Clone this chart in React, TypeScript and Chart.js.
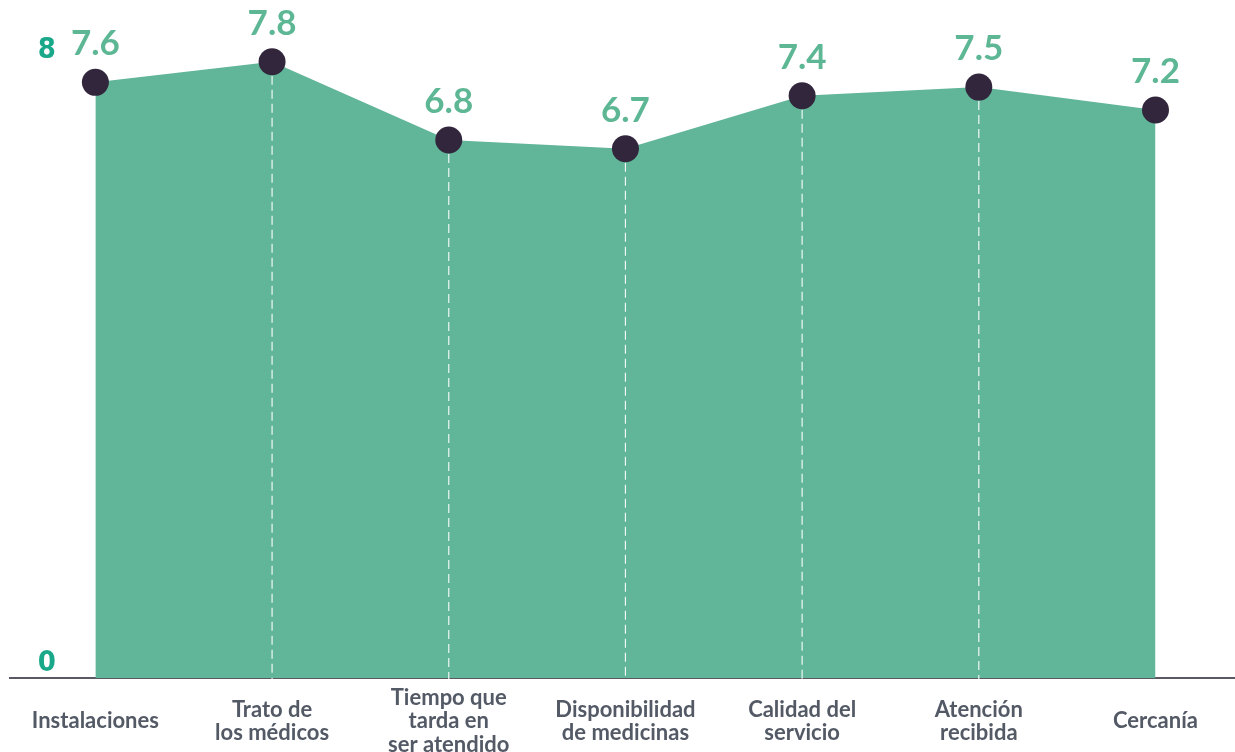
import React, { useEffect, useRef } from "react";
import { Chart, registerables } from "chart.js";

Chart.register(...registerables);

// ---- data ----
const categories: (string | string[])[] = [
  "Instalaciones",
  ["Trato de", "los médicos"],
  ["Tiempo que", "tarda en", "ser atendido"],
  ["Disponibilidad", "de medicinas"],
  ["Calidad del", "servicio"],
  ["Atención", "recibida"],
  "Cercanía",
];
const scores = [7.54, 7.8, 6.81, 6.7, 7.37, 7.48, 7.19];
const scoreLabels = ["7.6", "7.8", "6.8", "6.7", "7.4", "7.5", "7.2"];
const yTickValues = [0, 8];

// ---- styles ----
const AREA_COLOR = "#61b599";
const POINT_COLOR = "#32263c";
const VALUE_COLOR = "#5eb794";
const YTICK_COLOR = "#1aa88a";
const XLABEL_COLOR = "#535a66";
const AXIS_COLOR = "#5b5864";

const guidePlugin = {
  id: "dashGuides",
  beforeDatasetDraw(chart: any, args: any) {
    if (args.index !== 0) return;
    const { ctx, chartArea } = chart;
    const meta = chart.getDatasetMeta(0);
    const last = meta.data.length - 1;
    ctx.save();
    ctx.strokeStyle = "rgba(255,255,255,0.9)";
    ctx.lineWidth = 1.2;
    ctx.setLineDash([9, 5]);
    meta.data.forEach((pt: any, i: number) => {
      if (i === 0 || i === last) return;
      ctx.beginPath();
      ctx.moveTo(pt.x, pt.y);
      ctx.lineTo(pt.x, chartArea.bottom + 1);
      ctx.stroke();
    });
    ctx.restore();
  },
};

const valueLabelPlugin = {
  id: "valueLabels",
  afterDatasetsDraw(chart: any) {
    const { ctx } = chart;
    const meta = chart.getDatasetMeta(0);
    ctx.save();
    ctx.fillStyle = VALUE_COLOR;
    ctx.font = "bold 35px Lato, 'Open Sans', sans-serif";
    ctx.textAlign = "center";
    ctx.textBaseline = "alphabetic";
    meta.data.forEach((pt: any, i: number) => {
      ctx.fillText(scoreLabels[i], pt.x, pt.y - 27);
    });
    ctx.restore();
  },
};

export default function App() {
  const canvasRef = useRef<HTMLCanvasElement | null>(null);

  useEffect(() => {
    if (!canvasRef.current) return;
    const points = scores.map((v, i) => ({ x: i, y: v }));
    const chart = new Chart(canvasRef.current, {
      type: "line",
      data: {
        datasets: [
          {
            data: points,
            showLine: false,
            pointRadius: 13.5,
            pointHoverRadius: 13.5,
            pointBackgroundColor: POINT_COLOR,
            pointBorderWidth: 0,
            borderWidth: 0,
            fill: false,
            clip: false,
          },
          {
            data: points,
            backgroundColor: AREA_COLOR,
            borderColor: AREA_COLOR,
            borderWidth: 0,
            pointRadius: 0,
            tension: 0,
            fill: "origin",
          },
        ],
      },
      options: {
        animation: false,
        responsive: false,
        devicePixelRatio: 1,
        events: [],
        layout: { autoPadding: false, padding: { left: 9.7, top: 6.5, right: 0, bottom: 0 } },
        plugins: {
          legend: { display: false },
          tooltip: { enabled: false },
        },
        scales: {
          x: {
            type: "linear",
            min: -0.485,
            max: 6.45,
            grid: { display: false, drawTicks: false },
            border: { display: true, color: AXIS_COLOR, width: 2 },
            afterBuildTicks: (s: any) => {
              s.ticks = categories.map((_, i) => ({ value: i }));
            },
            afterFit: (s: any) => {
              s.height = 74;
              s.paddingLeft = 0;
              s.paddingRight = 0;
            },
            ticks: {
              autoSkip: false,
              maxRotation: 0,
              minRotation: 0,
              padding: 20,
              crossAlign: "center",
              color: XLABEL_COLOR,
              font: { family: "Lato, 'Open Sans', sans-serif", size: 22, weight: "bold", lineHeight: 1.06 },
              callback: (v: any) => categories[v as number] ?? "",
            },
          },
          y: {
            display: false,
            min: 0,
            max: 8.5,
          },
          yTicks: {
            type: "linear",
            position: "left",
            min: -0.196,
            max: 8.568,
            grid: { display: false, drawTicks: false },
            border: { display: false },
            afterBuildTicks: (s: any) => {
              s.ticks = yTickValues.map((v) => ({ value: v }));
            },
            afterFit: (s: any) => {
              s.width = 0;
              s.paddingTop = 0;
              s.paddingBottom = 0;
            },
            ticks: {
              mirror: true,
              padding: 28,
              color: YTICK_COLOR,
              font: { family: "'Liberation Sans Narrow', 'DejaVu Sans Condensed', sans-serif", size: 29, weight: "bold" },
            },
          },
        },
      } as any,
      plugins: [guidePlugin, valueLabelPlugin],
    });
    return () => chart.destroy();
  }, []);

  return (
    <div style={{ position: "fixed", left: 0, top: 0, width: 1235, height: 752, overflow: "hidden", background: "#fff" }}>
      <canvas ref={canvasRef} width={1235} height={752} style={{ display: "block" }} />
    </div>
  );
}
